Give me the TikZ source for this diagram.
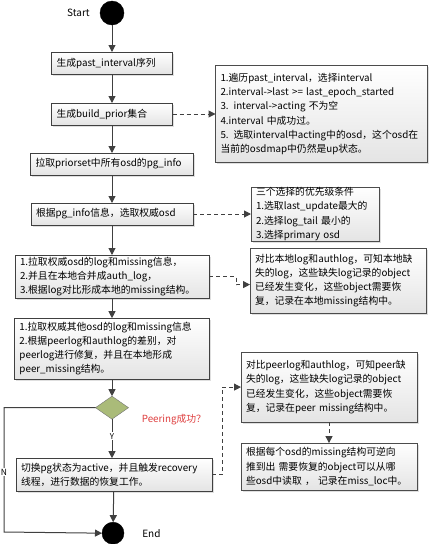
\documentclass[tikz,border=0pt]{standalone}
\usepackage{fontspec}
\setmainfont{Noto Sans CJK SC}
\usetikzlibrary{positioning,shapes.geometric,shadows,arrows.meta}
\definecolor{linegray}{RGB}{64,64,64}
\definecolor{boxgray}{RGB}{228,228,228}
\definecolor{olivefill}{RGB}{170,187,121}
\definecolor{askred}{RGB}{222,62,62}

\begin{document}
\begin{tikzpicture}[x=1pt,y=-1pt,outer sep=0pt,
  stepbox/.style={
    draw=linegray,
    top color=white,
    bottom color=boxgray,
    drop shadow={opacity=.25,shadow xshift=1.5pt,shadow yshift=-1.5pt},
    font={\fontsize{9.8}{14.2}\selectfont},
    align=left,
    inner xsep=5pt,
    inner ysep=2pt,
    minimum height=22pt,
%    text depth=2pt
    },
  notebox/.style={stepbox,draw=black!70},
  term/.style={circle,fill=black,draw=black,minimum size=24pt,inner sep=0pt},
  decide/.style={diamond,draw=black!55,fill=olivefill,minimum width=33pt,minimum height=23pt,inner sep=0pt},
  flow/.style={draw=linegray,line width=1pt,-{Triangle[length=7pt,width=7pt]}},
  hint/.style={flow,dash pattern=on 4pt off 3pt},
  ]
  \useasboundingbox (0,0) rectangle (429,544);

  \node[term] (start) at (112,13) {};
  \node[left=7pt of start, font=\fontsize{10}{12}\selectfont] {Start};

  \node[stepbox, below=27pt of start, text width=111pt] (past) {生成past\_interval序列};
  \node[stepbox, below=29pt of past, text width=111pt] (prior) {生成build\_prior集合};
  \node[stepbox, below=28pt of prior, text width=153pt] (pginfo) {拉取priorset中所有osd的pg\_info};
  \node[stepbox, below=28pt of pginfo, text width=152pt] (choose) {根据pg\_info信息，选取权威osd};
  \node[stepbox, below=30pt of choose, text width=184pt, minimum height=41pt] (authlog)
    {1.拉取权威osd的log和missing信息，\\2.并且在本地合并成auth\_log，\\3.根据log对比形成本地的missing结构。};
  \node[stepbox, below=20pt of authlog, text width=185pt, minimum height=61pt] (peerlog)
    {1.拉取权威其他osd的log和missing信息\\2.根据peerlog和authlog的差别，对\\peerlog进行修复，并且在本地形成\\peer\_missing结构。};
  \node[decide, below=17pt of peerlog] (ok) {};
  \node[stepbox, below=39pt of ok, xshift=2pt, text width=186pt, minimum height=33pt] (recovery)
    {切换pg状态为active，并且触发recovery\\线程，进行数据的恢复工作。};
  \node[term, minimum size=22pt, below=31pt of recovery, xshift=-1pt] (end) {};
  \node[right=15pt of end, font=\fontsize{10}{12}\selectfont] {End};

  \node[right=10pt of ok.east, yshift=-12pt, text=askred, font=\fontsize{9.8}{12}\selectfont] (okq) {Peering成功？};

  \node[notebox, right=43pt of prior.east, text width=202pt, minimum height=97pt] (filter)
    {1.遍历past\_interval，选择interval\\2.interval->last >= last\_epoch\_started\\3. interval->acting 不为空\\4.interval 中成功过。\\5. 选取interval中acting中的osd，这个osd在\\当前的osdmap中仍然是up状态。};
  \node[notebox, right=58pt of choose.east, text width=118pt, minimum height=54pt, inner ysep=0pt] (prio)
    {三个选择的优先级条件\\1.选取last\_update最大的\\2.选择log\_tail 最小的\\3.选择primary osd};
  \node[notebox, right=41pt of authlog.east, yshift=-4pt, text width=166pt, minimum height=65pt] (localmiss)
    {对比本地log和authlog，可知本地缺\\失的log，这些缺失log记录的object\\已经发生变化，这些object需要恢\\复，记录在本地missing结构中。};
  \node[notebox, below=39pt of localmiss.south west, anchor=north west, xshift=-9pt, text width=166pt, minimum height=70pt] (peercmp)
    {对比peerlog和authlog，可知peer缺\\失的log，这些缺失log记录的object\\已经发生变化，这些object需要恢\\复，记录在peer missing结构中。};
  \node[notebox, below=21pt of peercmp, text width=166pt, minimum height=47pt] (missloc)
    {根据每个osd的missing结构可逆向\\推到出 需要恢复的object可以从哪\\些osd中读取 ， 记录在miss\_loc中。};

  \coordinate (nturn) at (4,532);

  \draw[flow] (start) -- (past);
  \draw[flow] (past) -- (prior);
  \draw[flow] (prior) -- (pginfo);
  \draw[flow] (pginfo) -- (choose);
  \draw[flow] (choose) -- (authlog);
  \draw[flow] (authlog) -- (peerlog);
  \draw[flow] (peerlog) -- (ok);
  \draw[flow] (ok) -- (ok |- recovery.north) node[pos=.44, fill=white, inner sep=1pt, font=\fontsize{8}{10}\selectfont] {Y};
  \draw[flow] (recovery) -- (end);
  \draw[flow] (ok.west) -| (nturn) node[pos=.76, fill=white, inner sep=1pt, font=\fontsize{8.5}{10}\selectfont] {N} -- (end.west);

  \draw[hint] (prior.east) -- (filter.west);
  \draw[hint] (choose.east) -- (prio.west);
  \draw[hint] (authlog.east) -- ++(27pt,0pt) |- ([yshift=-4pt]localmiss.west);
  \draw[hint] (recovery.east) -- ++(10pt,0pt) |- (peercmp.west);
  \draw[hint] (peercmp) -- (missloc);
\end{tikzpicture}
\end{document}
